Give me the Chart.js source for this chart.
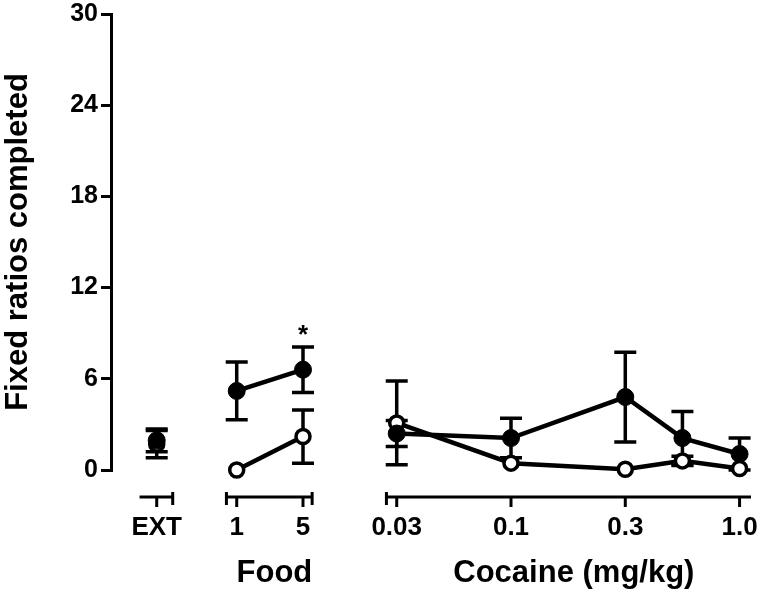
<!DOCTYPE html>
<html><head><meta charset="utf-8">
<script src="https://cdn.jsdelivr.net/npm/chart.js@4.4.1/dist/chart.umd.min.js"></script>
<style>html,body{margin:0;padding:0;background:#fff}#wrap{width:762px;height:592px}</style>
</head><body><div id="wrap"><canvas id="c" width="762" height="592"></canvas></div>
<script>
// ---------------- data ----------------
const extLabels = ['EXT'];
const foodDoses = [1, 5];
const foodTickLabels = ['1', '5'];
const cocaineDoses = [0.03, 0.1, 0.3, 0.56, 1.0];
const cocaineTickLabels = ['0.03', '0.1', '0.3', '', '1.0'];
const groupTitles = ['Food', 'Cocaine (mg/kg)'];
const yTicks = [0, 6, 12, 18, 24, 30];
const yTitle = 'Fixed ratios completed';

const filledExt = [1.95];           const filledExtErr = [0.75];
const openExt = [1.7];              const openExtErr = [0.9];
const filledFood = [5.2, 6.6];      const filledFoodErr = [1.9, 1.5];
const openFood = [0.0, 2.2];        const openFoodErr = [0.0, 1.75];
const filledCocaine = [2.4, 2.1, 4.8, 2.1, 1.05];
const filledCocaineErr = [0.85, 1.3, 2.95, 1.75, 1.05];
const openCocaine = [3.1, 0.45, 0.05, 0.6, 0.1];
const openCocaineErr = [2.75, 0.0, 0.0, 0.3, 0.0];
const sigFood = ['', '*'];   // significance mark over filled food points

// ---------------- layout (axis units on a broken x axis) ----------------
const LAYOUT = {
  extX: 0.4,
  foodX: [1.1, 1.68],
  cocStart: 2.5,                 // position of lowest nominal half-log dose
  segments: [
    {from: 0.25, to: 0.54, capL: false, capR: true},
    {from: 1.01, to: 1.76, capL: true, capR: true},
    {from: 2.41, to: 5.6, capL: true, capR: false}
  ],
  titleX: [1.43, 4.05]
};
const FONT = "'Liberation Sans', Arial, Helvetica, sans-serif";
function cocX(d) { return LAYOUT.cocStart + 2 * (Math.round(4 * Math.log10(d)) / 4 + 1.5); }
const extXs = extLabels.map(() => LAYOUT.extX);
const foodXs = foodDoses.map((d, i) => LAYOUT.foodX[i]);
const cocXs = cocaineDoses.map(cocX);

const xTickList = [].concat(
  extLabels.map((l, i) => ({v: extXs[i], label: l})),
  foodTickLabels.map((l, i) => ({v: foodXs[i], label: l})),
  cocaineTickLabels.map((l, i) => ({v: cocXs[i], label: l})).filter(t => t.label !== '')
);

function mk(xs, ys, errs, filled) {
  return {
    data: xs.map((x, i) => ({x: x, y: ys[i]})),
    errors: errs,
    showLine: true,
    borderColor: '#000',
    backgroundColor: filled ? '#000' : '#fff',
    borderWidth: 4.5,
    pointRadius: filled ? 8.5 : 7,
    pointBorderWidth: filled ? 1 : 3.5,
    pointBackgroundColor: filled ? '#000' : '#fff',
    pointBorderColor: '#000',
    pointStyle: 'circle',
    clip: false
  };
}

const datasets = [
  mk(extXs, filledExt, filledExtErr, true),
  mk(foodXs, filledFood, filledFoodErr, true),
  mk(cocXs, filledCocaine, filledCocaineErr, true),
  mk(extXs, openExt, openExtErr, false),
  mk(foodXs, openFood, openFoodErr, false),
  mk(cocXs, openCocaine, openCocaineErr, false)
];

const errorBars = {
  id: 'errorBars',
  beforeDatasetsDraw(chart) {
    const {ctx, scales: {x, y}} = chart;
    ctx.save();
    ctx.strokeStyle = '#000';
    ctx.lineWidth = 3.5;
    chart.data.datasets.forEach(ds => {
      ds.data.forEach((p, i) => {
        const e = ds.errors[i];
        if (!e) return;
        const px = x.getPixelForValue(p.x);
        const yt = y.getPixelForValue(p.y + e), yb = y.getPixelForValue(p.y - e);
        ctx.beginPath();
        ctx.moveTo(px, yt); ctx.lineTo(px, yb);
        ctx.moveTo(px - 11, yt); ctx.lineTo(px + 11, yt);
        ctx.moveTo(px - 11, yb); ctx.lineTo(px + 11, yb);
        ctx.stroke();
      });
    });
    ctx.restore();
  }
};

const brokenAxis = {
  id: 'brokenAxis',
  afterDraw(chart) {
    const {ctx, scales: {x, y}, chartArea} = chart;
    const ay = chartArea.bottom + 27;
    ctx.save();
    ctx.strokeStyle = '#000';
    ctx.lineWidth = 3;
    LAYOUT.segments.forEach(s => {
      const a = x.getPixelForValue(s.from), b = x.getPixelForValue(s.to);
      ctx.beginPath();
      ctx.moveTo(a, ay); ctx.lineTo(b, ay);
      if (s.capL) { ctx.moveTo(a, ay - 5); ctx.lineTo(a, ay + 8); }
      if (s.capR) { ctx.moveTo(b, ay - 5); ctx.lineTo(b, ay + 8); }
      ctx.stroke();
    });
    xTickList.forEach(t => {
      const px = x.getPixelForValue(t.v);
      ctx.beginPath(); ctx.moveTo(px, ay); ctx.lineTo(px, ay + 10); ctx.stroke();
    });
    // group titles
    ctx.fillStyle = '#000';
    ctx.font = 'bold 31px ' + FONT;
    ctx.textAlign = 'center';
    ctx.textBaseline = 'alphabetic';
    groupTitles.forEach((t, i) => {
      ctx.fillText(t, x.getPixelForValue(LAYOUT.titleX[i]), chartArea.bottom + 112);
    });
    // significance marks
    ctx.font = 'bold 26px ' + FONT;
    ctx.textBaseline = 'middle';
    sigFood.forEach((m, i) => {
      if (!m) return;
      const px = x.getPixelForValue(foodXs[i]);
      const py = y.getPixelForValue(filledFood[i] + filledFoodErr[i]) - 11;
      ctx.fillText(m, px, py);
    });
    ctx.restore();
  }
};

new Chart(document.getElementById('c'), {
  type: 'scatter',
  data: {datasets: datasets},
  options: {
    responsive: false,
    animation: false,
    events: [],
    layout: {padding: {left: 0, right: 11, top: 14, bottom: 0}},
    plugins: {legend: {display: false}, tooltip: {enabled: false}},
    scales: {
      x: {
        type: 'linear', min: 0, max: 5.6,
        grid: {display: false, drawTicks: false},
        border: {display: false},
        afterBuildTicks: s => { s.ticks = xTickList.map(t => ({value: t.v})); },
        ticks: {
          autoSkip: false, maxRotation: 0, minRotation: 0,
          padding: 42, color: '#000',
          font: {family: FONT, size: 26, weight: 'bold'},
          callback: (v, i) => xTickList[i].label
        },
        afterFit: s => { s.height = 122; s.paddingLeft = 0; s.paddingRight = 0; }
      },
      y: {
        min: 0, max: 30,
        afterBuildTicks: s => { s.ticks = yTicks.map(v => ({value: v})); },
        ticks: {color: '#000', padding: 3, font: {family: FONT, size: 25, weight: 'bold'}},
        grid: {drawOnChartArea: false, drawTicks: true, tickLength: 10, lineWidth: 3, color: '#000'},
        border: {display: true, width: 3, color: '#000'},
        title: {display: true, text: yTitle, color: '#000', padding: 0,
                font: {family: FONT, size: 31, weight: 'bold'}},
        afterFit: s => { s.width = 111; s.paddingTop = 0; s.paddingBottom = 0; }
      }
    }
  },
  plugins: [errorBars, brokenAxis]
});
</script>
</body></html>
